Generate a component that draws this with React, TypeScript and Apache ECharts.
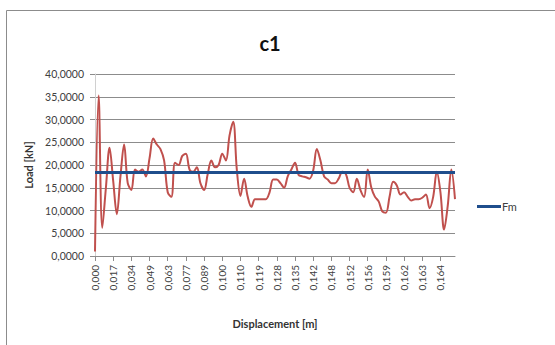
import React, { useEffect, useRef } from "react";
import * as echarts from "echarts";

// Displacement tick labels (one every 5 samples)
const tickLabels = [
  "0,000", "0,017", "0,034", "0,049", "0,063", "0,077", "0,089", "0,100", "0,110", "0,119",
  "0,128", "0,135", "0,142", "0,148", "0,152", "0,156", "0,159", "0,162", "0,163", "0,164",
];

// Measured load in kN, 100 samples
const load = [
  1.0, 35.3, 6.2, 15.0, 23.8, 16.5, 9.2, 17.5, 24.5, 16.0,
  14.5, 19.0, 18.5, 19.0, 17.5, 21.5, 25.8, 24.5, 23.5, 21.0,
  14.0, 13.0, 20.5, 20.0, 22.0, 22.5, 19.0, 18.5, 19.5, 16.0,
  14.5, 18.0, 21.0, 19.5, 20.0, 22.5, 21.0, 26.5, 29.5, 19.0,
  13.2, 17.0, 13.0, 10.8, 12.5, 12.5, 12.5, 12.5, 14.0, 16.8,
  16.8, 16.0, 15.0, 17.5, 19.0, 20.5, 17.8, 17.5, 17.3, 17.0,
  18.8, 23.5, 21.0, 17.5, 16.8, 16.0, 16.0, 17.0, 18.5, 18.0,
  15.0, 14.0, 17.0, 14.5, 13.0, 19.0, 15.0, 13.0, 12.0, 9.8,
  9.5, 13.0, 16.3, 15.5, 13.5, 14.0, 13.0, 12.2, 12.5, 12.5,
  12.8, 13.5, 10.5, 13.0, 18.5, 14.0, 5.8, 11.0, 19.0, 12.5,
];

// Mean load Fm in kN
const FM = 18.3;

const LABEL_STEP = 5;
const FONT = "Lato, 'Open Sans', sans-serif";

export default function App() {
  const ref = useRef<HTMLDivElement>(null);

  useEffect(() => {
    if (!ref.current) return;
    const chart = echarts.init(ref.current, undefined, { renderer: "svg" });
    const categories = load.map((_, i) =>
      i % LABEL_STEP === 0 ? tickLabels[i / LABEL_STEP] ?? "" : ""
    );

    chart.setOption({
      animation: false,
      backgroundColor: "#ffffff",
      textStyle: { fontFamily: FONT },
      title: {
        text: "c1",
        left: 265,
        top: 28,
        textAlign: "center",
        textStyle: { fontFamily: FONT, fontSize: 20, fontWeight: "bold", color: "#111" },
      },
      graphic: [
        {
          type: "rect",
          shape: { x: 6.5, y: 10.5, width: 700, height: 500 },
          style: { fill: "none", stroke: "#8c8c8c", lineWidth: 1 },
          silent: true,
        },
      ],
      legend: {
        left: 472,
        top: 196,
        data: ["Fm"],
        icon: "rect",
        itemWidth: 24,
        itemHeight: 3,
        textStyle: { fontFamily: FONT, fontSize: 11, color: "#404040", padding: [0, 0, 0, -4] },
      },
      grid: { left: 95, right: 100, top: 74, bottom: 89 },
      xAxis: {
        type: "category",
        data: categories,
        boundaryGap: false,
        name: "Displacement [m]",
        nameLocation: "middle",
        nameGap: 62,
        nameTextStyle: { fontFamily: FONT, fontSize: 11, fontWeight: "bold", color: "#333" },
        axisLine: { lineStyle: { color: "#8c8c8c", width: 1 } },
        axisTick: { interval: LABEL_STEP - 1, length: 5, lineStyle: { color: "#8c8c8c" } },
        axisLabel: {
          interval: LABEL_STEP - 1,
          rotate: 90,
          margin: 9,
          fontFamily: FONT,
          fontSize: 10,
          color: "#404040",
        },
        splitLine: { show: false },
      },
      yAxis: {
        type: "value",
        min: 0,
        max: 40,
        interval: 5,
        name: "Load [kN]",
        nameLocation: "middle",
        nameRotate: 90,
        nameGap: 60,
        nameTextStyle: { fontFamily: FONT, fontSize: 11, fontWeight: "bold", color: "#333" },
        axisLine: { show: true, lineStyle: { color: "#d0d0d0", width: 1 } },
        axisTick: { show: true, length: 5, lineStyle: { color: "#8c8c8c" } },
        axisLabel: {
          margin: 11,
          fontFamily: FONT,
          fontSize: 10.5,
          color: "#404040",
          formatter: (v: number) => v.toFixed(4).replace(".", ","),
        },
        splitLine: { show: true, lineStyle: { color: "#8c8c8c", width: 1 } },
      },
      series: [
        {
          name: "Load",
          type: "line",
          data: load,
          symbol: "none",
          smooth: 0.35,
          lineStyle: { color: "#c0504d", width: 2 },
          itemStyle: { color: "#c0504d" },
          z: 2,
        },
        {
          name: "Fm",
          type: "line",
          data: [],
          symbol: "none",
          color: "#1f4e8c",
          lineStyle: { color: "#1f4e8c", width: 3 },
          itemStyle: { color: "#1f4e8c" },
          z: 3,
          markLine: {
            silent: true,
            symbol: "none",
            label: { show: false },
            lineStyle: { color: "#1f4e8c", width: 3, type: "solid" },
            data: [{ yAxis: FM }],
          },
        },
      ],
    });

    return () => chart.dispose();
  }, []);

  return (
    <div
      ref={ref}
      style={{ position: "fixed", left: 0, top: 0, width: 555, height: 345, background: "#fff" }}
    />
  );
}
